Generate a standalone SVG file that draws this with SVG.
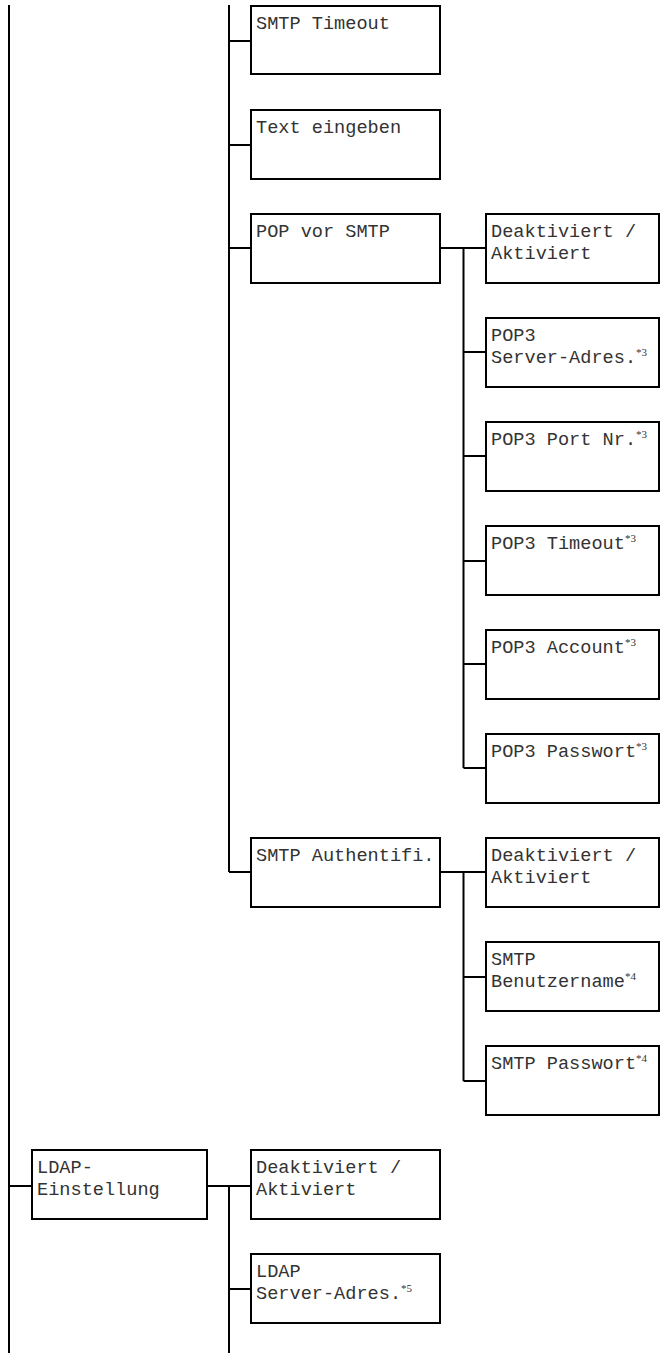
<svg xmlns="http://www.w3.org/2000/svg" width="661" height="1353" viewBox="0 0 661 1353">
<style>
.box{fill:#fff;stroke:#000;stroke-width:2}
.ln{stroke:#000;stroke-width:2;fill:none}
text{font-family:"Liberation Mono","Courier New",monospace;font-size:18.6px;fill:#333}
.sup{font-family:"Liberation Serif","Times New Roman",serif;font-size:11px}
</style>
<rect width="661" height="1353" fill="#fff"/>
<g id="connectors">
<path class="ln" d="M9,5V1353"/>
<path class="ln" d="M229,5V872"/>
<path class="ln" d="M229,1186V1353"/>
<path class="ln" d="M463.5,248V768"/>
<path class="ln" d="M463.5,872V1081"/>
<path class="ln" d="M229,41H251M229,145H251M229,248H251M229,872H251"/>
<path class="ln" d="M440,248H486M440,872H486"/>
<path class="ln" d="M463.5,352H486M463.5,456H486M463.5,561H486M463.5,664H486M463.5,768H486"/>
<path class="ln" d="M463.5,977H486M463.5,1081H486"/>
<path class="ln" d="M9,1186H32M207,1186H251M229,1289H251"/>
</g>
<g id="smtp-timeout"><rect class="box" x="251" y="6" width="189" height="68"/><text x="256" y="29">SMTP Timeout</text></g>
<g id="text-eingeben"><rect class="box" x="251" y="110" width="189" height="69"/><text x="256" y="133">Text eingeben</text></g>
<g id="pop-vor-smtp"><rect class="box" x="251" y="214" width="189" height="69"/><text x="256" y="237">POP vor SMTP</text></g>
<g id="pop-deakt"><rect class="box" x="486" y="214" width="173" height="69"/><text x="491" y="237">Deaktiviert /</text><text x="491" y="259">Aktiviert</text></g>
<g id="pop3-server"><rect class="box" x="486" y="318" width="173" height="69"/><text x="491" y="341">POP3</text><text x="491" y="363">Server-Adres.<tspan class="sup" dy="-7">*3</tspan></text></g>
<g id="pop3-port"><rect class="box" x="486" y="422" width="173" height="69"/><text x="491" y="445">POP3 Port Nr.<tspan class="sup" dy="-7">*3</tspan></text></g>
<g id="pop3-timeout"><rect class="box" x="486" y="526" width="173" height="69"/><text x="491" y="549">POP3 Timeout<tspan class="sup" dy="-7">*3</tspan></text></g>
<g id="pop3-account"><rect class="box" x="486" y="630" width="173" height="69"/><text x="491" y="653">POP3 Account<tspan class="sup" dy="-7">*3</tspan></text></g>
<g id="pop3-passwort"><rect class="box" x="486" y="734" width="173" height="69"/><text x="491" y="757">POP3 Passwort<tspan class="sup" dy="-7">*3</tspan></text></g>
<g id="smtp-auth"><rect class="box" x="251" y="838" width="189" height="69"/><text x="256" y="861">SMTP Authentifi.</text></g>
<g id="auth-deakt"><rect class="box" x="486" y="838" width="173" height="69"/><text x="491" y="861">Deaktiviert /</text><text x="491" y="883">Aktiviert</text></g>
<g id="smtp-benutzer"><rect class="box" x="486" y="942" width="173" height="69"/><text x="491" y="965">SMTP</text><text x="491" y="987">Benutzername<tspan class="sup" dy="-7">*4</tspan></text></g>
<g id="smtp-passwort"><rect class="box" x="486" y="1046" width="173" height="69"/><text x="491" y="1069">SMTP Passwort<tspan class="sup" dy="-7">*4</tspan></text></g>
<g id="ldap-einstellung"><rect class="box" x="32" y="1150" width="175" height="69"/><text x="37" y="1173">LDAP-</text><text x="37" y="1195">Einstellung</text></g>
<g id="ldap-deakt"><rect class="box" x="251" y="1150" width="189" height="69"/><text x="256" y="1173">Deaktiviert /</text><text x="256" y="1195">Aktiviert</text></g>
<g id="ldap-server"><rect class="box" x="251" y="1254" width="189" height="69"/><text x="256" y="1277">LDAP</text><text x="256" y="1299">Server-Adres.<tspan class="sup" dy="-7">*5</tspan></text></g>
</svg>
